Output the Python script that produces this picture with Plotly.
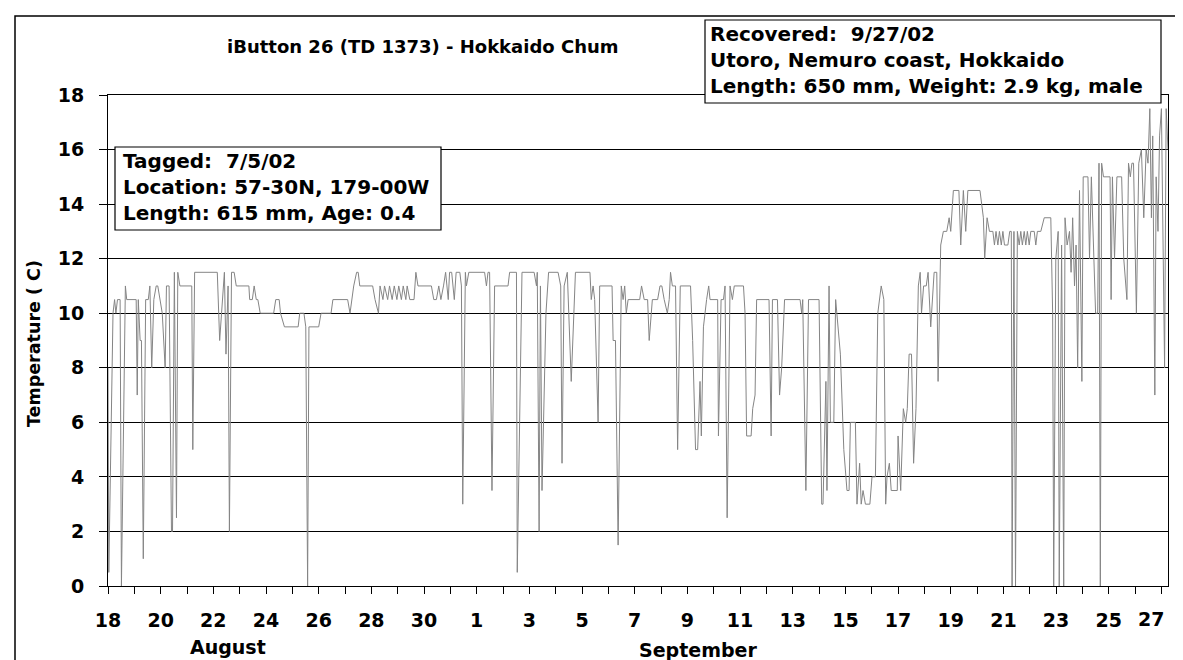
import plotly.graph_objects as go

# iButton 26 temperature record
# day = days since 18 Aug 2002 00:00, temp in deg C
day = [
    0.00, 0.03, 0.19, 0.25, 0.30, 0.36, 0.46, 0.51, 0.66, 0.71,
    1.07, 1.11, 1.15, 1.22, 1.27, 1.34, 1.43, 1.53, 1.59, 1.66,
    1.74, 1.83, 1.89, 1.97, 2.06, 2.17, 2.22, 2.32, 2.41, 2.45,
    2.52, 2.60, 2.65, 2.73, 3.18, 3.22, 3.29, 4.15, 4.24, 4.42,
    4.48, 4.56, 4.61, 4.69, 4.79, 4.87, 5.35, 5.38, 5.48, 5.55,
    5.63, 5.69, 5.78, 6.29, 6.37, 6.50, 6.55, 6.70, 7.22, 7.28,
    7.44, 7.51, 7.58, 7.63, 8.00, 8.09, 8.47, 8.54, 9.10, 9.19,
    9.25, 9.33, 9.44, 9.50, 9.56, 10.05, 10.14, 10.27, 10.33, 10.44,
    10.50, 10.62, 10.69, 10.79, 10.87, 10.97, 11.04, 11.14, 11.21, 11.31,
    11.36, 11.46, 11.62, 11.69, 11.77, 12.28, 12.37, 12.47, 12.56, 12.64,
    12.74, 12.82, 12.92, 12.97, 13.05, 13.15, 13.22, 13.36, 13.42, 13.47,
    13.57, 13.61, 13.70, 14.30, 14.37, 14.43, 14.49, 14.58, 14.68, 15.19,
    15.25, 15.51, 15.54, 15.72, 16.18, 16.27, 16.30, 16.37, 16.42, 16.48,
    16.63, 16.73, 17.09, 17.19, 17.24, 17.32, 17.44, 17.59, 17.75, 18.30,
    18.35, 18.42, 18.48, 18.61, 18.67, 19.14, 19.18, 19.27, 19.37, 19.49,
    19.56, 19.62, 19.68, 19.75, 20.19, 20.26, 20.36, 20.49, 20.55, 20.67,
    20.87, 20.96, 21.03, 21.12, 21.24, 21.31, 21.36, 21.43, 21.55, 21.63,
    21.73, 22.12, 22.20, 22.31, 22.39, 22.48, 22.53, 22.61, 22.73, 22.81,
    22.86, 23.15, 23.18, 23.28, 23.37, 23.43, 23.51, 23.62, 23.71, 23.78,
    24.13, 24.19, 24.25, 24.42, 24.48, 24.57, 24.63, 25.10, 25.18, 25.23,
    25.42, 25.50, 25.58, 25.69, 26.28, 26.34, 26.38, 26.50, 26.60, 27.00,
    27.10, 27.15, 27.26, 27.30, 27.38, 27.43, 27.56, 27.63, 27.81, 27.94,
    28.06, 28.14, 28.19, 28.38, 28.44, 28.54, 28.60, 28.67, 28.76, 28.93,
    29.01, 29.14, 29.23, 29.36, 29.46, 29.53, 29.58, 29.67, 29.74, 29.97,
    30.00, 30.10, 30.20, 30.29, 30.35, 30.42, 30.51, 30.59, 30.68, 30.77,
    30.84, 30.89, 30.97, 31.07, 31.14, 31.24, 31.37, 31.47, 31.52, 31.62,
    31.72, 31.85, 31.94, 32.00, 32.10, 32.31, 32.38, 32.48, 32.57, 32.65,
    33.11, 33.24, 33.29, 33.38, 33.47, 33.60, 33.66, 33.72, 33.79, 33.85,
    33.92, 33.98, 34.04, 34.17, 34.24, 34.30, 34.33, 34.40, 34.46, 34.53,
    34.60, 34.66, 34.72, 34.79, 34.85, 34.91, 34.98, 35.04, 35.17, 35.23,
    35.29, 35.42, 35.55, 35.80, 35.87, 35.91, 35.99, 36.08, 36.12, 36.21,
    36.29, 36.34, 36.42, 36.51, 36.57, 36.63, 36.70, 36.76, 36.82, 36.89,
    36.98, 37.03, 37.21, 37.27, 37.34, 37.44, 37.50, 37.58, 37.63, 37.68,
    37.73, 37.80, 38.05, 38.09, 38.14, 38.22, 38.31, 38.49, 38.57, 38.69,
    38.75, 38.82, 38.88, 38.94, 39.05, 39.14, 39.24, 39.33, 39.42, 39.49,
    39.56, 39.62, 39.67, 39.75, 39.80, 39.87, 39.93, 40.00, 40.06, 40.12,
    40.18, 40.25,
]
temp = [
    8.0, 0.5, 10.0, 10.5, 10.0, 10.5, 10.5, 0.0, 11.0, 10.5,
    10.5, 7.0, 10.5, 9.0, 9.0, 1.0, 10.5, 10.5, 11.0, 8.0,
    10.5, 11.0, 11.0, 10.5, 10.0, 8.0, 11.0, 11.0, 2.0, 2.0,
    11.5, 2.5, 11.5, 11.0, 11.0, 5.0, 11.5, 11.5, 9.0, 11.5,
    8.5, 11.0, 2.0, 11.5, 11.5, 11.0, 11.0, 10.5, 10.5, 11.0,
    10.5, 10.5, 10.0, 10.0, 10.5, 10.5, 10.0, 9.5, 9.5, 10.0,
    10.0, 9.5, 0.0, 9.5, 9.5, 10.0, 10.0, 10.5, 10.5, 10.0,
    10.5, 11.0, 11.5, 11.5, 11.0, 11.0, 10.5, 10.0, 11.0, 10.5,
    11.0, 10.5, 11.0, 10.5, 11.0, 10.5, 11.0, 10.5, 11.0, 10.5,
    11.0, 10.5, 10.5, 11.5, 11.0, 11.0, 10.5, 10.5, 11.0, 10.5,
    11.0, 11.5, 10.5, 11.5, 11.5, 10.5, 11.5, 11.5, 11.0, 3.0,
    11.5, 11.0, 11.5, 11.5, 11.0, 11.5, 11.5, 3.5, 11.0, 11.0,
    11.5, 11.5, 0.5, 11.5, 11.5, 11.0, 11.5, 2.0, 11.0, 3.5,
    10.0, 11.5, 11.5, 11.0, 4.5, 11.0, 11.5, 7.5, 11.5, 11.5,
    10.5, 11.0, 10.5, 6.0, 11.0, 11.0, 9.0, 9.0, 1.5, 11.0,
    10.5, 11.0, 10.0, 10.5, 10.5, 11.0, 10.5, 10.5, 9.0, 10.5,
    10.5, 11.0, 11.0, 10.5, 10.0, 10.5, 11.5, 11.0, 11.0, 5.0,
    11.0, 11.0, 9.0, 5.0, 5.0, 7.5, 5.5, 9.5, 10.5, 11.0,
    10.5, 10.5, 5.5, 10.5, 10.5, 11.0, 2.5, 11.0, 10.5, 11.0,
    11.0, 10.0, 5.5, 5.5, 6.5, 7.0, 10.5, 10.5, 5.5, 10.5,
    10.5, 7.0, 8.0, 10.5, 10.5, 10.0, 10.5, 3.5, 10.5, 10.5,
    3.0, 3.0, 7.5, 3.5, 11.0, 6.0, 6.0, 10.5, 8.5, 5.0,
    3.5, 3.5, 6.0, 6.0, 3.0, 4.5, 3.0, 3.5, 3.0, 3.0,
    4.0, 4.0, 10.0, 11.0, 10.5, 3.0, 4.0, 4.5, 3.5, 3.5,
    5.5, 3.5, 6.5, 6.0, 6.5, 8.5, 8.5, 4.5, 6.5, 11.0,
    11.5, 10.0, 11.0, 11.0, 11.5, 9.5, 11.5, 11.5, 7.5, 12.5,
    13.0, 13.0, 13.5, 13.0, 14.5, 14.5, 12.5, 14.5, 13.0, 14.5,
    14.5, 13.5, 12.0, 13.5, 13.0, 13.0, 12.5, 13.0, 12.5, 13.0,
    12.5, 13.0, 12.5, 12.5, 13.0, 13.0, 0.0, 13.0, 0.0, 13.0,
    12.5, 13.0, 12.5, 13.0, 12.5, 13.0, 12.5, 13.0, 13.0, 12.5,
    13.0, 13.0, 13.5, 13.5, 10.0, 0.0, 12.0, 13.0, 0.0, 12.5,
    0.0, 13.5, 12.5, 13.0, 11.5, 13.5, 11.0, 12.5, 8.0, 14.5,
    7.5, 15.0, 15.0, 12.0, 15.0, 12.0, 10.0, 10.0, 15.5, 0.0,
    15.5, 15.0, 15.0, 10.5, 15.0, 12.0, 15.0, 15.0, 12.0, 10.5,
    15.5, 15.0, 15.5, 15.5, 10.0, 15.5, 16.0, 13.5, 16.0, 15.5,
    17.5, 13.5, 16.5, 7.0, 15.0, 13.0, 16.5, 17.5, 13.0, 8.0,
    17.5, 16.0,
]

# day labels; the last one (27) is drawn separately, nudged inside the frame
tick_days = list(range(0, 41))
tick_text = ['18', '', '20', '', '22', '', '24', '', '26', '', '28', '', '30', '',
             '1', '', '3', '', '5', '', '7', '', '9', '', '11', '', '13', '',
             '15', '', '17', '', '19', '', '21', '', '23', '', '25', '', '']
last_tick = (40, '27')

title_text = 'iButton 26 (TD 1373) - Hokkaido Chum'
tagged_text = 'Tagged:  7/5/02<br>Location: 57-30N, 179-00W<br>Length: 615 mm, Age: 0.4'
recovered_text = 'Recovered:  9/27/02<br>Utoro, Nemuro coast, Hokkaido<br>Length: 650 mm, Weight: 2.9 kg, male'

FONT = 'DejaVu Sans'

# plot area in pixels
PL, PR, PT, PB = 100, 1160, 87, 578


def px(x):
    return (x - PL) / (PR - PL)


def py(y):
    return (PB - y) / (PB - PT)


fig = go.Figure(go.Scatter(x=day, y=temp, mode='lines',
                           line=dict(color='#858585', width=1),
                           showlegend=False))

fig.update_layout(
    width=1183, height=660,
    margin=dict(l=PL, r=1183 - PR, t=PT, b=660 - PB),
    paper_bgcolor='white', plot_bgcolor='white',
    font=dict(family=FONT, color='black', weight='bold'),
    xaxis=dict(range=[0, 40.25], tickmode='array', tickvals=tick_days, ticktext=tick_text,
               ticks='outside', ticklen=7, tickcolor='black', tickwidth=1,
               showline=True, linecolor='black', linewidth=1, mirror=True,
               showgrid=False, zeroline=False, ticklabelstandoff=10,
               tickfont=dict(family=FONT, size=19, weight='bold')),
    yaxis=dict(range=[0, 18], dtick=2, tick0=0,
               ticks='outside', ticklen=8, tickcolor='black', tickwidth=1,
               showline=True, linecolor='black', linewidth=1, mirror=True,
               showgrid=True, gridcolor='black', gridwidth=1, zeroline=False,
               ticklabelstandoff=11,
               tickfont=dict(family=FONT, size=19, weight='bold')),
    shapes=[
        # outer chart frame
        dict(type='rect', xref='paper', yref='paper', x0=px(7), x1=px(1400),
             y0=py(800), y1=py(8), line=dict(color='black', width=1.5), layer='below'),
        dict(type='rect', xref='paper', yref='paper', x0=px(107), x1=px(433),
             y0=py(222), y1=py(139), line=dict(color='black', width=1.2),
             fillcolor='white', layer='above'),
        dict(type='rect', xref='paper', yref='paper', x0=px(697), x1=px(1153),
             y0=py(95), y1=py(12), line=dict(color='black', width=1.2),
             fillcolor='white', layer='above'),
    ],
    annotations=[
        dict(text=title_text, xref='paper', yref='paper', x=px(415), y=py(38),
             xanchor='center', yanchor='middle', showarrow=False,
             font=dict(family=FONT, size=18, weight='bold')),
        dict(text=tagged_text, xref='paper', yref='paper', x=px(114), y=py(140),
             xanchor='left', yanchor='top', align='left', showarrow=False, borderpad=0,
             font=dict(family=FONT, size=20, weight='bold')),
        dict(text=recovered_text, xref='paper', yref='paper', x=px(701), y=py(13),
             xanchor='left', yanchor='top', align='left', showarrow=False, borderpad=0,
             font=dict(family=FONT, size=20, weight='bold')),
        dict(text='Temperature ( C)', xref='paper', yref='paper', x=px(26), y=py(336),
             xanchor='center', yanchor='middle', textangle=-90, showarrow=False,
             font=dict(family=FONT, size=17.5, weight='bold')),
        dict(text=last_tick[1], xref='x', yref='paper', x=last_tick[0], y=0,
             xanchor='center', yanchor='top', yshift=-20, xshift=-10, showarrow=False,
             font=dict(family=FONT, size=19, weight='bold')),
        dict(text='August', xref='paper', yref='paper', x=px(220), y=py(639),
             xanchor='center', yanchor='middle', showarrow=False,
             font=dict(family=FONT, size=19, weight='bold')),
        dict(text='September', xref='paper', yref='paper', x=px(690), y=py(642),
             xanchor='center', yanchor='middle', showarrow=False,
             font=dict(family=FONT, size=19, weight='bold')),
    ],
)

fig.write_html('out.html')
